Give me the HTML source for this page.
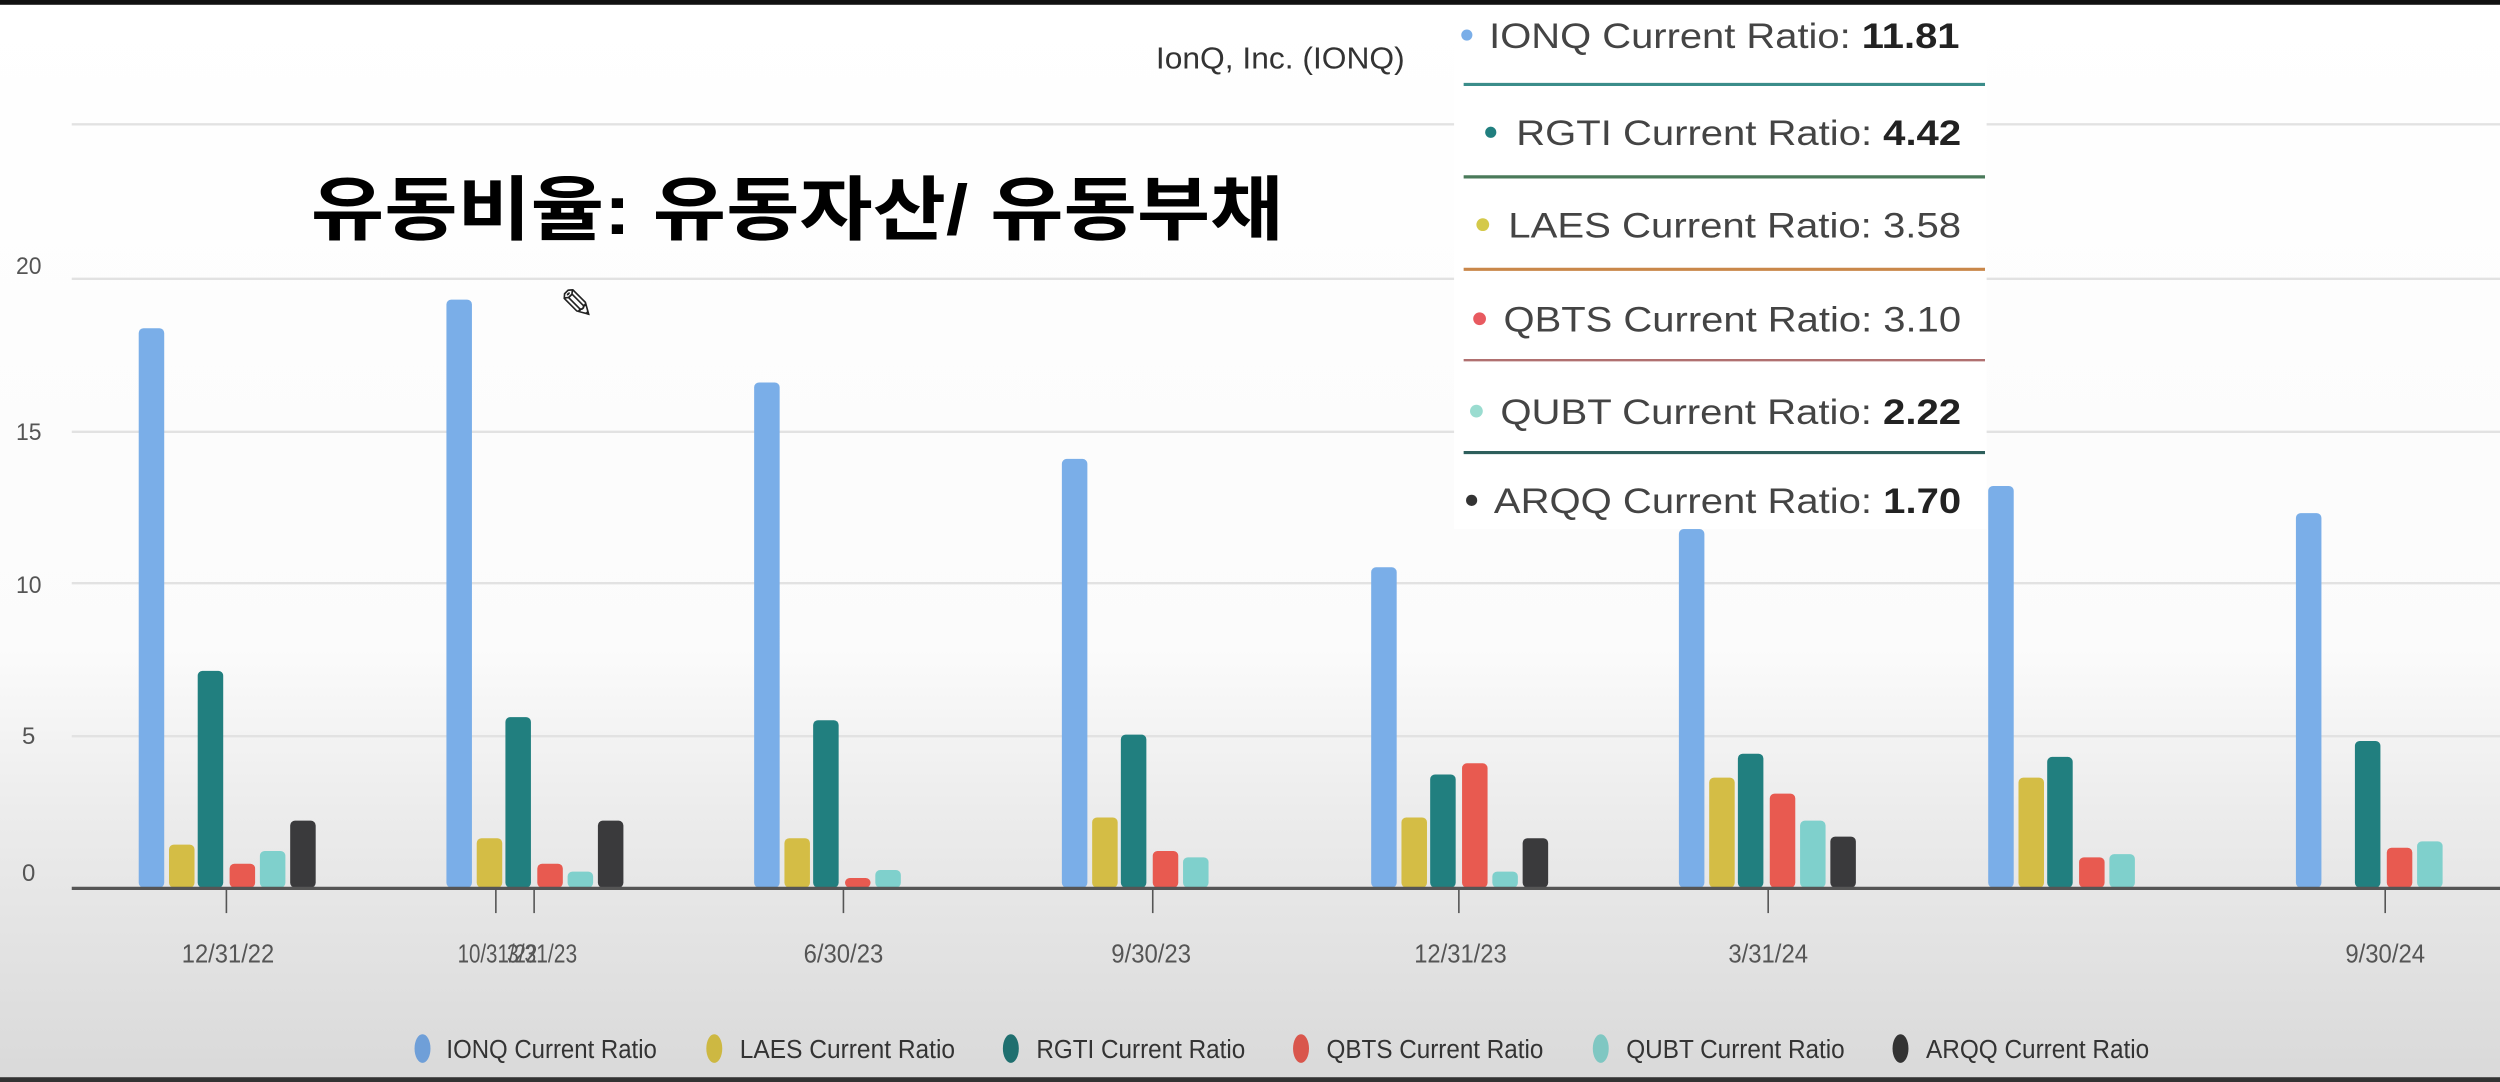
<!DOCTYPE html>
<html><head><meta charset="utf-8"><style>
html,body{margin:0;padding:0;width:2500px;height:1082px;overflow:hidden;background:#fff}
svg{display:block}
</style></head><body>
<svg width="2500" height="1082" viewBox="0 0 1568 679" preserveAspectRatio="none" xmlns="http://www.w3.org/2000/svg" font-family="'Liberation Sans', 'Noto Sans CJK KR', sans-serif">
<defs>
<linearGradient id="bg" x1="0" y1="0" x2="0" y2="1">
<stop offset="0" stop-color="#ffffff"/>
<stop offset="0.6" stop-color="#fbfbfb"/>
<stop offset="0.75" stop-color="#ececec"/>
<stop offset="1" stop-color="#d9d9d9"/>
</linearGradient>
</defs>
<rect x="0" y="0" width="1568" height="679" fill="url(#bg)"/>
<rect x="0" y="0" width="1568" height="3" fill="#111"/>
<rect x="0" y="676" width="1568" height="3" fill="#333"/>
<g stroke="#e2e2e2" stroke-width="1.5">
<line x1="45" y1="78" x2="1568" y2="78"/>
<line x1="45" y1="175" x2="1568" y2="175"/>
<line x1="45" y1="271" x2="1568" y2="271"/>
<line x1="45" y1="366" x2="1568" y2="366"/>
<line x1="45" y1="462" x2="1568" y2="462"/>
</g>
<g fill="#555" font-size="15" text-anchor="middle">
<text x="18" y="172" textLength="16" lengthAdjust="spacingAndGlyphs">20</text>
<text x="18" y="276" textLength="16" lengthAdjust="spacingAndGlyphs">15</text>
<text x="18" y="372" textLength="16" lengthAdjust="spacingAndGlyphs">10</text>
<text x="18" y="467">5</text>
<text x="18" y="553">0</text>
</g>
<g>
<g fill="#7aaee8">
<rect x="87" y="206" width="16" height="351" rx="3"/>
<rect x="280" y="188" width="16" height="369" rx="3"/>
<rect x="473" y="240" width="16" height="317" rx="3"/>
<rect x="666" y="288" width="16" height="269" rx="3"/>
<rect x="860" y="356" width="16" height="201" rx="3"/>
<rect x="1053" y="332" width="16" height="225" rx="3"/>
<rect x="1247" y="305" width="16" height="252" rx="3"/>
<rect x="1440" y="322" width="16" height="235" rx="3"/>
</g>
<g fill="#d4bd45">
<rect x="106" y="530" width="16" height="27" rx="3"/>
<rect x="299" y="526" width="16" height="31" rx="3"/>
<rect x="492" y="526" width="16" height="31" rx="3"/>
<rect x="685" y="513" width="16" height="44" rx="3"/>
<rect x="879" y="513" width="16" height="44" rx="3"/>
<rect x="1072" y="488" width="16" height="69" rx="3"/>
<rect x="1266" y="488" width="16" height="69" rx="3"/>
</g>
<g fill="#217f7f">
<rect x="124" y="421" width="16" height="136" rx="3"/>
<rect x="317" y="450" width="16" height="107" rx="3"/>
<rect x="510" y="452" width="16" height="105" rx="3"/>
<rect x="703" y="461" width="16" height="96" rx="3"/>
<rect x="897" y="486" width="16" height="71" rx="3"/>
<rect x="1090" y="473" width="16" height="84" rx="3"/>
<rect x="1284" y="475" width="16" height="82" rx="3"/>
<rect x="1477" y="465" width="16" height="92" rx="3"/>
</g>
<g fill="#e85a50">
<rect x="144" y="542" width="16" height="15" rx="3"/>
<rect x="337" y="542" width="16" height="15" rx="3"/>
<rect x="530" y="551" width="16" height="6" rx="3"/>
<rect x="723" y="534" width="16" height="23" rx="3"/>
<rect x="917" y="479" width="16" height="78" rx="3"/>
<rect x="1110" y="498" width="16" height="59" rx="3"/>
<rect x="1304" y="538" width="16" height="19" rx="3"/>
<rect x="1497" y="532" width="16" height="25" rx="3"/>
</g>
<g fill="#7fd0cc">
<rect x="163" y="534" width="16" height="23" rx="3"/>
<rect x="356" y="547" width="16" height="10" rx="3"/>
<rect x="549" y="546" width="16" height="11" rx="3"/>
<rect x="742" y="538" width="16" height="19" rx="3"/>
<rect x="936" y="547" width="16" height="10" rx="3"/>
<rect x="1129" y="515" width="16" height="42" rx="3"/>
<rect x="1323" y="536" width="16" height="21" rx="3"/>
<rect x="1516" y="528" width="16" height="29" rx="3"/>
</g>
<g fill="#3a3a3c">
<rect x="182" y="515" width="16" height="42" rx="3"/>
<rect x="375" y="515" width="16" height="42" rx="3"/>
<rect x="955" y="526" width="16" height="31" rx="3"/>
<rect x="1148" y="525" width="16" height="32" rx="3"/>
</g>
</g>
<line x1="45" y1="557.5" x2="1568" y2="557.5" stroke="#555" stroke-width="2"/>
<g stroke="#555" stroke-width="1">
<line x1="142" y1="558" x2="142" y2="573"/>
<line x1="311" y1="558" x2="311" y2="573"/>
<line x1="335" y1="558" x2="335" y2="573"/>
<line x1="529" y1="558" x2="529" y2="573"/>
<line x1="723" y1="558" x2="723" y2="573"/>
<line x1="915" y1="558" x2="915" y2="573"/>
<line x1="1109" y1="558" x2="1109" y2="573"/>
<line x1="1496" y1="558" x2="1496" y2="573"/>
</g>
<g fill="#555" font-size="16" text-anchor="middle">
<text x="143" y="604" textLength="58" lengthAdjust="spacingAndGlyphs">12/31/22</text>
<text x="312" y="604" textLength="50" lengthAdjust="spacingAndGlyphs">10/31/22</text>
<text x="340" y="604" textLength="44" lengthAdjust="spacingAndGlyphs">3/31/23</text>
<text x="529" y="604" textLength="50" lengthAdjust="spacingAndGlyphs">6/30/23</text>
<text x="722" y="604" textLength="50" lengthAdjust="spacingAndGlyphs">9/30/23</text>
<text x="916" y="604" textLength="58" lengthAdjust="spacingAndGlyphs">12/31/23</text>
<text x="1109" y="604" textLength="50" lengthAdjust="spacingAndGlyphs">3/31/24</text>
<text x="1496" y="604" textLength="50" lengthAdjust="spacingAndGlyphs">9/30/24</text>
</g>
<g font-size="16" fill="#333">
<ellipse cx="265" cy="658" rx="5" ry="9" fill="#6f9fd8"/><text x="280" y="664" textLength="132" lengthAdjust="spacingAndGlyphs">IONQ Current Ratio</text>
<ellipse cx="448" cy="658" rx="5" ry="9" fill="#cdb842"/><text x="464" y="664" textLength="135" lengthAdjust="spacingAndGlyphs">LAES Current Ratio</text>
<ellipse cx="634" cy="658" rx="5" ry="9" fill="#1f6f6f"/><text x="650" y="664" textLength="131" lengthAdjust="spacingAndGlyphs">RGTI Current Ratio</text>
<ellipse cx="816" cy="658" rx="5" ry="9" fill="#d9564c"/><text x="832" y="664" textLength="136" lengthAdjust="spacingAndGlyphs">QBTS Current Ratio</text>
<ellipse cx="1004" cy="658" rx="5" ry="9" fill="#7fc7c2"/><text x="1020" y="664" textLength="137" lengthAdjust="spacingAndGlyphs">QUBT Current Ratio</text>
<ellipse cx="1192" cy="658" rx="5" ry="9" fill="#333"/><text x="1208" y="664" textLength="140" lengthAdjust="spacingAndGlyphs">ARQQ Current Ratio</text>
</g>
<text x="803" y="43" font-size="19" fill="#333" text-anchor="middle" textLength="156" lengthAdjust="spacingAndGlyphs">IonQ, Inc. (IONQ)</text>
<text x="195" y="147" font-size="44" font-weight="bold" fill="#000" textLength="610" lengthAdjust="spacingAndGlyphs">유동비율: 유동자산/ 유동부채</text>
<text x="362" y="200" font-size="26" fill="#222" text-anchor="middle">✎</text>
<rect x="912" y="4" width="334" height="328" fill="#fff"/>
<g font-size="22" fill="#444">
<circle cx="920" cy="22" r="3.5" fill="#7aaee8"/>
<text x="934" y="30" textLength="295" lengthAdjust="spacingAndGlyphs">IONQ Current Ratio: <tspan font-weight="bold" fill="#222">11.81</tspan></text>
<line x1="918" y1="53" x2="1245" y2="53" stroke="#3b8d8a" stroke-width="2"/>
<circle cx="935" cy="83" r="3.5" fill="#217f7f"/>
<text x="951" y="91" textLength="279" lengthAdjust="spacingAndGlyphs">RGTI Current Ratio: <tspan font-weight="bold" fill="#222">4.42</tspan></text>
<line x1="918" y1="111" x2="1245" y2="111" stroke="#4a7a5a" stroke-width="2"/>
<circle cx="930" cy="141" r="4" fill="#d4c94a"/>
<text x="946" y="149" textLength="284" lengthAdjust="spacingAndGlyphs">LAES Current Ratio: 3.58</text>
<line x1="918" y1="169" x2="1245" y2="169" stroke="#c9874a" stroke-width="2"/>
<circle cx="928" cy="200" r="4" fill="#e85a60"/>
<text x="943" y="208" textLength="287" lengthAdjust="spacingAndGlyphs">QBTS Current Ratio: 3.10</text>
<line x1="918" y1="226" x2="1245" y2="226" stroke="#b07070" stroke-width="1.5"/>
<circle cx="926" cy="258" r="4" fill="#9adcd0"/>
<text x="941" y="266" textLength="289" lengthAdjust="spacingAndGlyphs">QUBT Current Ratio: <tspan font-weight="bold" fill="#222">2.22</tspan></text>
<line x1="918" y1="284" x2="1245" y2="284" stroke="#2e5f5c" stroke-width="2"/>
<circle cx="923" cy="314" r="3.5" fill="#333"/>
<text x="937" y="322" textLength="293" lengthAdjust="spacingAndGlyphs">ARQQ Current Ratio: <tspan font-weight="bold" fill="#222">1.70</tspan></text>
</g>
</svg>
</body></html>
